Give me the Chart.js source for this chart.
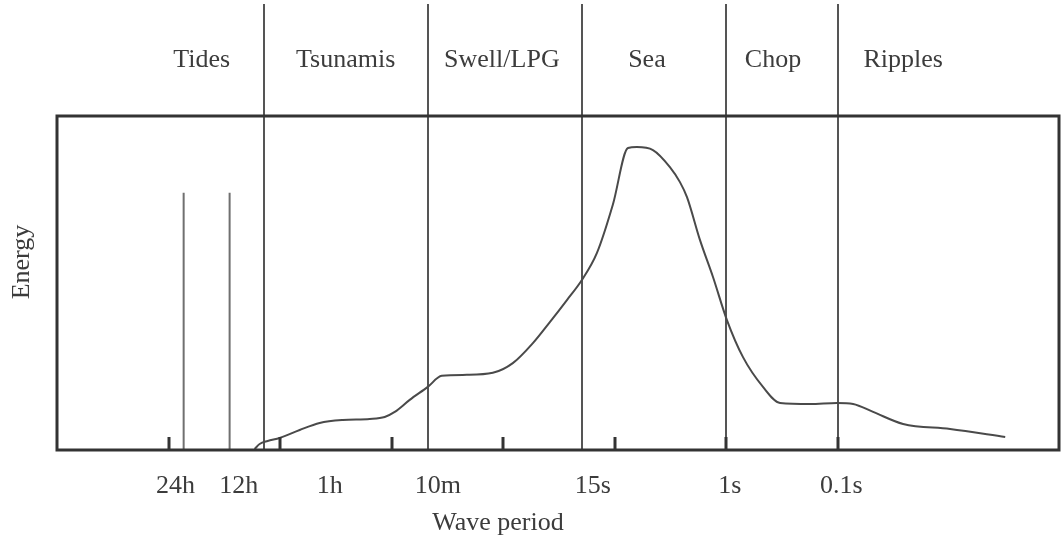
<!DOCTYPE html>
<html>
<head>
<meta charset="utf-8">
<script src="https://cdn.jsdelivr.net/npm/chart.js@4.4.1/dist/chart.umd.min.js"></script>
<style>
  html, body { margin: 0; padding: 0; background: #fff; }
  #wrap { width: 1062px; height: 542px; }
</style>
</head>
<body>
<div id="wrap"><canvas id="waveChart"></canvas></div>
<script>
// ---------------- data ----------------
// x runs on an even "period" scale: one unit per tick mark, tick marks at 0..6
const energyX = [0.771, 0.816, 0.888, 0.996, 1.175, 1.354, 1.561, 1.803, 1.937, 2.027,
  2.161, 2.323, 2.448, 2.673, 2.906, 3.085, 3.265, 3.417, 3.570, 3.704,
  3.839, 3.982, 4.117, 4.197, 4.341, 4.493, 4.583, 4.646, 4.762,
  4.879, 5.004, 5.148, 5.327, 5.480, 5.749, 5.991, 6.135, 6.314, 6.583,
  7.004, 7.498];
const energyY = [0.003, 0.018, 0.027, 0.036, 0.060, 0.081, 0.090, 0.093, 0.099, 0.114,
  0.150, 0.189, 0.222, 0.225, 0.231, 0.260, 0.320, 0.383, 0.449, 0.509,
  0.590, 0.735, 0.904, 0.907, 0.898, 0.847, 0.802, 0.757, 0.629,
  0.518, 0.389, 0.278, 0.189, 0.141, 0.138, 0.141, 0.138, 0.114, 0.078,
  0.063, 0.039];

// tidal lines (24h and 12h)
const tideX = [0.135, 0.547];
const tideHeight = 0.77;

// band dividers and band names
const dividerX = [0.852, 2.323, 3.704, 5.0, 6.0];
const bandNames = ["Tides", "Tsunamis", "Swell/LPG", "Sea", "Chop", "Ripples"];
const bandLabelX = [0.296, 1.587, 2.987, 4.287, 5.417, 6.583];

// tick marks and period labels
const tickMarkX = [0, 1, 2, 3, 4, 5, 6];
const periodLabels = ["24h", "12h", "1h", "10m", "15s", "1s", "0.1s"];
const periodLabelX = [0.063, 0.628, 1.444, 2.413, 3.803, 5.03, 6.03];

const xTitle = "Wave period";
const yTitle = "Energy";

// ---------------- build datasets ----------------
const curvePts = energyX.map((x, i) => ({ x: x, y: energyY[i] }));
const tidePts = [];
tideX.forEach((x, i) => {
  if (i > 0) tidePts.push({ x: x, y: NaN });
  tidePts.push({ x: x, y: 0 });
  tidePts.push({ x: x, y: tideHeight });
});

const FONT = "26px 'Liberation Serif', 'Times New Roman', serif";
const TEXT = "#3c3c3c";

// -------- frame, dividers, ticks, labels --------
const decor = {
  id: "decor",
  beforeDatasetsDraw(chart) {
    const { ctx, chartArea: { bottom }, scales: { x } } = chart;
    ctx.save();
    // band dividers go up past the frame
    ctx.strokeStyle = "#555";
    ctx.lineWidth = 2;
    dividerX.forEach(v => {
      const px = Math.round(x.getPixelForValue(v));
      ctx.beginPath();
      ctx.moveTo(px, 4);
      ctx.lineTo(px, bottom);
      ctx.stroke();
    });
    ctx.restore();
  },
  afterDraw(chart) {
    const { ctx, chartArea: { left, right, top, bottom }, scales: { x } } = chart;
    ctx.save();
    // frame
    ctx.strokeStyle = "#333";
    ctx.lineWidth = 3;
    ctx.strokeRect(left, top, right - left, bottom - top);

    // inward tick marks
    tickMarkX.forEach(v => {
      const px = Math.round(x.getPixelForValue(v));
      ctx.beginPath();
      ctx.moveTo(px, bottom);
      ctx.lineTo(px, bottom - 13);
      ctx.stroke();
    });

    ctx.font = FONT;
    ctx.fillStyle = TEXT;
    ctx.textAlign = "center";
    ctx.textBaseline = "middle";

    // band names
    bandNames.forEach((t, i) => {
      ctx.fillText(t, x.getPixelForValue(bandLabelX[i]), 60);
    });

    // period labels
    periodLabels.forEach((t, i) => {
      ctx.fillText(t, x.getPixelForValue(periodLabelX[i]), bottom + 36);
    });

    // axis titles
    ctx.fillText(xTitle, 498, bottom + 73);
    ctx.translate(22, 262);
    ctx.rotate(-Math.PI / 2);
    ctx.fillText(yTitle, 0, 0);
    ctx.restore();
  }
};

new Chart(document.getElementById("waveChart"), {
  type: "line",
  data: {
    datasets: [
      {
        label: "Energy",
        data: curvePts,
        borderColor: "#4a4a4a",
        borderWidth: 2,
        pointRadius: 0,
        cubicInterpolationMode: "monotone",
        fill: false
      },
      {
        label: "Tides",
        data: tidePts,
        borderColor: "#707070",
        borderWidth: 2,
        pointRadius: 0,
        tension: 0,
        spanGaps: false,
        fill: false
      }
    ]
  },
  options: {
    responsive: true,
    maintainAspectRatio: false,
    animation: false,
    layout: { padding: { left: 57, right: 3, top: 116, bottom: 92 } },
    plugins: {
      legend: { display: false },
      tooltip: { enabled: false }
    },
    scales: {
      x: { type: "linear", min: -1, max: 7.98, display: false },
      y: { type: "linear", min: 0, max: 1, display: false }
    }
  },
  plugins: [decor]
});
</script>
</body>
</html>
